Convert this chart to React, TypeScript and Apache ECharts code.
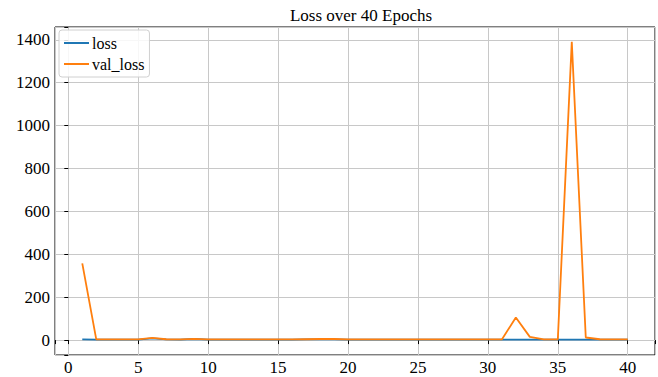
import React, { useEffect, useRef } from "react";
import * as echarts from "echarts";

const epochs = Array.from({ length: 40 }, (_, i) => i + 1);
const lossValues = [3, 2, 2, 2, 2, 8, 3, 2, 5, 2, 2, 2, 2, 2, 2, 2, 3, 3, 3, 2, 2, 2, 2, 2, 2, 2, 2, 2, 2, 2, 2, 2, 2, 2, 2, 2, 2, 2, 2, 2];
const valLossValues = [358, 3, 3, 3, 3, 10, 4, 3, 6, 3, 3, 3, 3, 3, 3, 3, 4, 5, 5, 3, 3, 3, 3, 3, 3, 3, 3, 3, 3, 3, 3, 105, 15, 3, 3, 1390, 12, 4, 3, 3];
const titleText = "Loss over 40 Epochs";

const FONT = "Liberation Serif";

export default function App() {
  const ref = useRef<HTMLDivElement>(null);
  useEffect(() => {
    if (!ref.current) return;
    const chart = echarts.init(ref.current, undefined, { renderer: "svg" });
    chart.setOption({
      animation: false,
      backgroundColor: "#fff",
      title: {
        text: titleText,
        left: 356,
        textAlign: "center",
        top: 2,
        textStyle: { fontFamily: FONT, fontSize: 17, fontWeight: "normal", color: "#000" },
      },
      legend: {
        orient: "vertical",
        left: 59,
        top: 30,
        icon: "rect",
        itemWidth: 25,
        itemHeight: 2,
        itemGap: 5,
        padding: [5, 5, 5, 5],
        borderColor: "#d0d0d0",
        borderWidth: 1,
        borderRadius: 3,
        backgroundColor: "rgba(255,255,255,0.85)",
        textStyle: { fontFamily: FONT, fontSize: 16, color: "#000", padding: [0, 0, 0, -2] },
        data: ["loss", "val_loss"],
      },
      grid: {
        left: 55,
        right: 3,
        top: 27,
        bottom: 22,
        show: true,
        borderColor: "#000",
        borderWidth: 1,
        backgroundColor: "transparent",
      },
      xAxis: {
        type: "value",
        min: -0.95,
        max: 41.95,
        splitNumber: 8,
        axisLine: { show: false },
        axisTick: { show: true, length: 4, lineStyle: { color: "#000" } },
        axisLabel: {
          fontFamily: FONT,
          fontSize: 17,
          color: "#000",
          margin: 4,
          formatter: (v: number) => (Math.abs(v % 5) < 1e-9 ? String(v) : ""),
        },
        splitLine: { show: true, lineStyle: { color: "#c8c8c8", width: 1 } },
      },
      yAxis: {
        type: "value",
        min: -69.5,
        max: 1459.5,
        splitNumber: 8,
        axisLine: { show: false },
        axisTick: { show: true, length: 4, lineStyle: { color: "#000" } },
        axisLabel: {
          fontFamily: FONT,
          fontSize: 17,
          color: "#000",
          margin: 5,
          formatter: (v: number) => (Math.abs(v % 200) < 1e-9 ? String(v) : ""),
        },
        splitLine: { show: true, lineStyle: { color: "#c8c8c8", width: 1 } },
      },
      series: [
        {
          name: "loss",
          type: "line",
          data: epochs.map((e, i) => [e, lossValues[i]]),
          showSymbol: false,
          symbol: "none",
          lineStyle: { color: "#1f77b4", width: 1.8 },
          itemStyle: { color: "#1f77b4" },
        },
        {
          name: "val_loss",
          type: "line",
          data: epochs.map((e, i) => [e, valLossValues[i]]),
          showSymbol: false,
          symbol: "none",
          lineStyle: { color: "#ff7f0e", width: 1.8 },
          itemStyle: { color: "#ff7f0e" },
        },
      ],
    });
    return () => chart.dispose();
  }, []);
  return (
    <div
      ref={ref}
      style={{ position: "fixed", left: 0, top: 0, width: 658, height: 377 }}
    />
  );
}
